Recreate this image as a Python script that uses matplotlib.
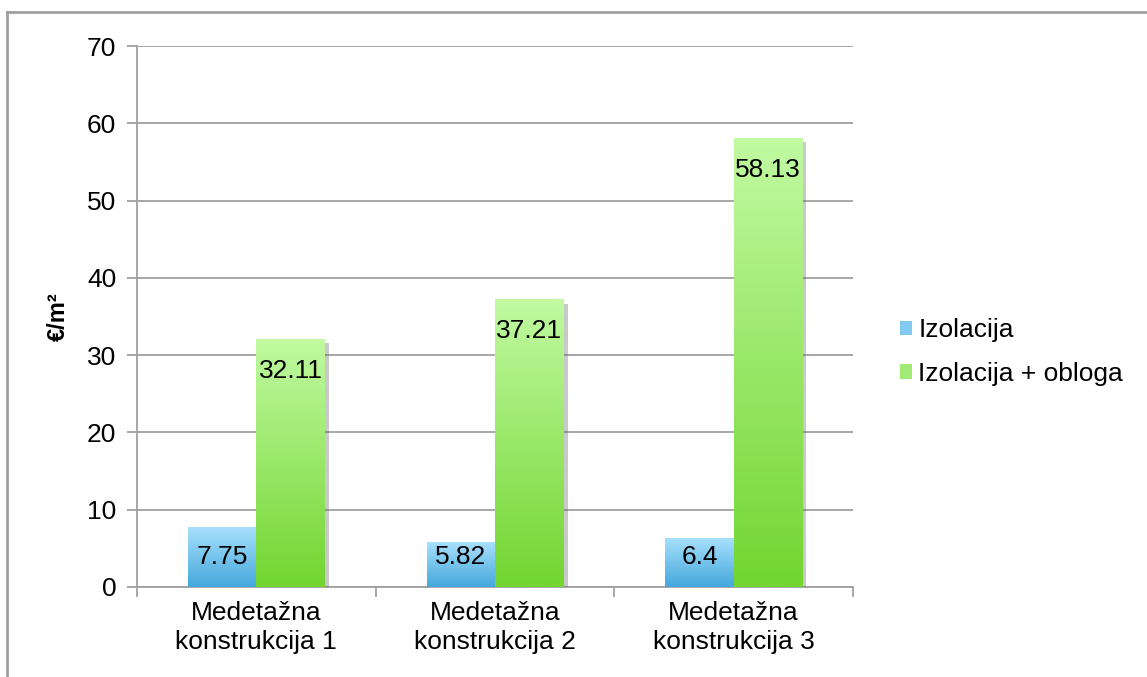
import numpy as np
import matplotlib.pyplot as plt
import matplotlib.patheffects as pe
from matplotlib.colors import LinearSegmentedColormap
from matplotlib.patches import Patch
from matplotlib.lines import Line2D

plt.rcParams['font.family'] = ['Liberation Sans', 'DejaVu Sans']

# podaci
kategorije = ['Medetažna\nkonstrukcija 1', 'Medetažna\nkonstrukcija 2', 'Medetažna\nkonstrukcija 3']
izolacija = [7.75, 5.82, 6.4]
izolacija_obloga = [32.11, 37.21, 58.13]
serije = ['Izolacija', 'Izolacija + obloga']
yticks = [0, 10, 20, 30, 40, 50, 60, 70]

# gradijenti (gore svijetlo, dolje tamnije)
plava = LinearSegmentedColormap.from_list('plava', ['#45a8dc', '#a8e0fd'])
zelena = LinearSegmentedColormap.from_list('zelena', ['#72d530', '#c1faa2'])

fig = plt.figure(figsize=(11.47, 6.77), dpi=100)
ax = fig.add_axes([137 / 1147, 1 - 587 / 677, (853 - 137) / 1147, (587 - 46) / 677])
ax.set_xlim(-0.5, 2.5)
ax.set_ylim(0, 70)

# piksela po jedinici na y osi
px = ax.get_window_extent().height / 70

x = np.arange(len(kategorije))
w = 0.287
sjena = [pe.SimplePatchShadow(offset=(3, -3), shadow_rgbFace='#666666', alpha=0.35), pe.Normal()]

grad = np.linspace(0, 1, 256).reshape(-1, 1)
for vrijednosti, pomak, cmap in [(izolacija, -w / 2, plava), (izolacija_obloga, w / 2, zelena)]:
    stupci = ax.bar(x + pomak, vrijednosti, w, color=cmap(0.5), zorder=3, path_effects=sjena)
    for st, v in zip(stupci, vrijednosti):
        x0 = st.get_x()
        img = ax.imshow(grad, cmap=cmap, origin='lower', aspect='auto',
                        extent=[x0, x0 + st.get_width(), 0, v], zorder=4)
        img.set_clip_path(st)
        # oznaka pri vrhu stupca, ali ne niže od 30 px iznad osi
        if v * px - 32 >= 30:
            xy, dy = (x0 + st.get_width() / 2, v), -32
        else:
            xy, dy = (x0 + st.get_width() / 2, 0), 30
        ax.annotate(f'{v:g}', xy, xytext=(0, dy), textcoords='offset pixels',
                    ha='center', va='center', fontsize=19, zorder=5)

ax.set_xlim(-0.5, 2.5)
ax.set_ylim(0, 70)
ax.set_yticks(yticks)
ax.yaxis.grid(True, color='#a0a0a0', lw=1.3, zorder=0)
ax.set_axisbelow(True)

# oznake kategorija između tickova
ax.set_xticks([-0.5, 0.5, 1.5, 2.5])
ax.set_xticklabels([])
ax.set_xticks(x, minor=True)
ax.set_xticklabels(kategorije, minor=True, fontsize=19, linespacing=1.25)
ax.tick_params(axis='x', which='minor', length=0, pad=10)
ax.tick_params(axis='x', which='major', length=7, width=1.3, color='#a0a0a0')
ax.tick_params(axis='y', length=7, width=1.3, color='#a0a0a0', labelsize=19, pad=8)

for s in ['top', 'right']:
    ax.spines[s].set_visible(False)
for s in ['left', 'bottom']:
    ax.spines[s].set_color('#a0a0a0')
    ax.spines[s].set_linewidth(1.3)

ax.set_ylabel('€/m²', fontsize=17, fontweight='bold', labelpad=12)

rucke = [Patch(facecolor=plava(0.6), edgecolor='none'), Patch(facecolor=zelena(0.6), edgecolor='none')]
fig.legend(rucke, serije, loc='center left', bbox_to_anchor=(900 / 1147, 1 - 352 / 677),
           frameon=False, fontsize=19, handlelength=0.45, handleheight=0.45,
           handletextpad=0.25, labelspacing=0.75, borderpad=0, borderaxespad=0)

# okvir oko grafikona
fig.add_artist(Line2D([7 / 1147, 1], [1 - 12 / 677, 1 - 12 / 677], color='#a0a0a0', lw=2, transform=fig.transFigure))
fig.add_artist(Line2D([7 / 1147, 7 / 1147], [0, 1 - 12 / 677], color='#a0a0a0', lw=2, transform=fig.transFigure))

fig.savefig('out.png', dpi=100, facecolor='white')
